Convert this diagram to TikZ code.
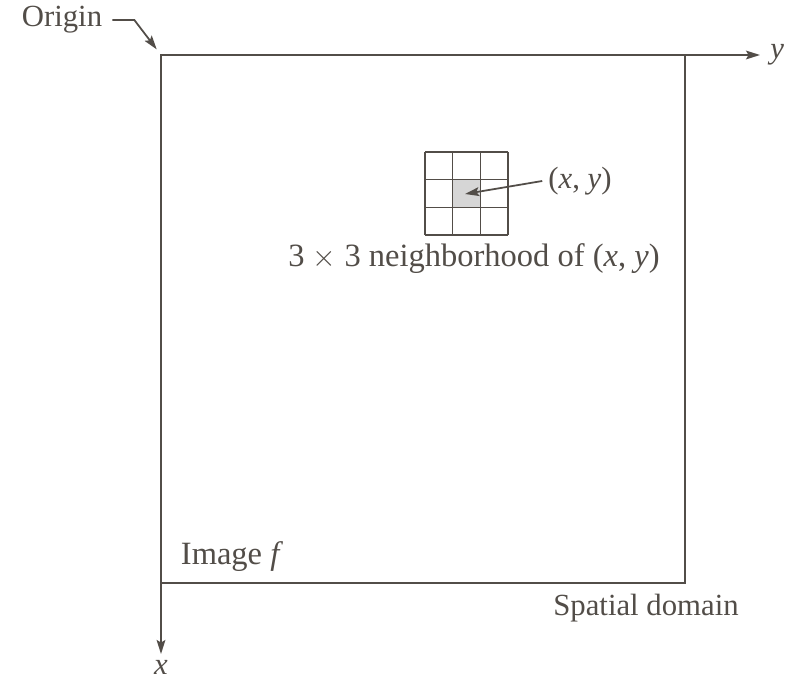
\documentclass[tikz,border=0pt]{standalone}
\usepackage{fontspec}
\setmainfont{Liberation Serif}
\usetikzlibrary{arrows.meta}
\definecolor{ink}{RGB}{82,77,72}
\definecolor{cellgray}{RGB}{214,214,214}
\begin{document}
\begin{tikzpicture}[x=0.02cm,y=-0.02cm,
	>={Stealth[length=8pt,width=5pt,inset=1.5pt]},
	every node/.style={text=ink,font=\fontsize{17.5}{20}\selectfont},
	axis/.style={draw=ink,line width=1pt},
	cell/.style={draw=ink,line width=0.8pt}]
	\useasboundingbox (0,0) rectangle (786,679);
	% axes and image
	\coordinate (O) at (161,55);
	\coordinate (yend) at (760,55);
	\coordinate (xend) at (161,654);
	\draw[axis] (O) rectangle (685,583);
	\draw[axis,->] (O) -- (yend) node [right=2pt] {\textit{y}};
	\draw[axis,->] (O) -- (xend);
	\node[inner sep=0pt] (xlab) at (161,667) {\textit{x}};
	\node (origin) at (62,20) {Origin};
	\draw[axis,->,shorten >=4pt] (origin.east) ++(4,0) -- ++(22,0) -- (O);
	\node (imgf) at (232,557) {\fontsize{18.5}{20}\selectfont Image \textit{f}};
	\node (domain) at (646,608) {Spatial domain};
	% neighborhood
	\fill[cellgray] (453,180) rectangle (480,207);
	\foreach \i in {0,...,3} {
		\draw[cell] (425+27.67*\i,152) -- (425+27.67*\i,235);
		\draw[cell] (425,152+27.67*\i) -- (508,152+27.67*\i);
	}
	\coordinate (ctr) at (465,194);
	\node (xy) at (580,181) {(\textit{x}, \textit{y})};
	\draw[axis,->] (xy.west) -- (ctr);
	\node (nbh) at (474,259) {\fontsize{18.5}{20}\selectfont 3 $\times$ 3 neighborhood of (\textit{x}, \textit{y})};
\end{tikzpicture}
\end{document}
